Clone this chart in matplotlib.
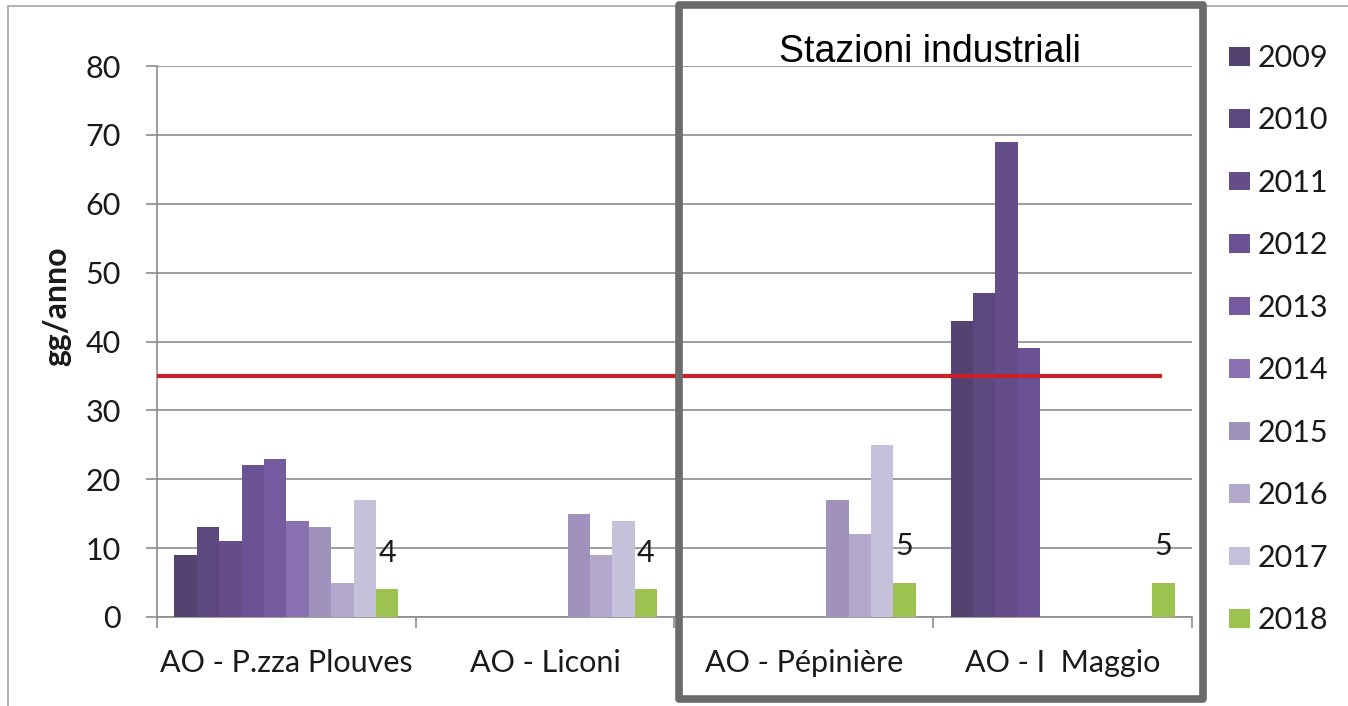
import numpy as np
import matplotlib
matplotlib.use("Agg")
import matplotlib.pyplot as plt
from matplotlib.patches import Rectangle, Patch

# ---- data -------------------------------------------------------------
stations = ["AO - P.zza Plouves", "AO - Liconi", "AO - Pépinière", "AO - I  Maggio"]
years = ["2009", "2010", "2011", "2012", "2013", "2014", "2015", "2016", "2017", "2018"]
nan = np.nan
# days/year per station, one list per year (nan = no data)
v2009 = [9, nan, nan, 43]
v2010 = [13, nan, nan, 47]
v2011 = [11, nan, nan, 69]
v2012 = [22, nan, nan, 39]
v2013 = [23, nan, nan, nan]
v2014 = [14, nan, nan, nan]
v2015 = [13, 15, 17, nan]
v2016 = [5, 9, 12, nan]
v2017 = [17, 14, 25, nan]
v2018 = [4, 4, 5, 5]
limit = 35

series = [v2009, v2010, v2011, v2012, v2013, v2014, v2015, v2016, v2017, v2018]
colors = ["#564271", "#5d4880", "#644d88", "#6b5294", "#755a9f", "#8a72b2",
          "#a191bd", "#b1a8cb", "#c6c1db", "#9cc24f"]

FONT = "Lato"
FS = 22
W, H = 1348, 706

fig = plt.figure(figsize=(W / 100, H / 100), dpi=100)
ax = fig.add_axes([157 / W, (H - 617) / H, (1192 - 157) / W, (617 - 66) / H])

x = np.arange(len(stations))
bw = 0.0865
for i, (yr, vals, c) in enumerate(zip(years, series, colors)):
    off = (i - 4.5) * bw
    ax.bar(x + off, vals, width=bw, color=c, edgecolor="none", zorder=3, label=yr)

# value labels for 2018
off18 = (9 - 4.5) * bw
for xi, v in zip(x, v2018):
    ax.annotate(str(v), (xi + off18, v), xytext=(0, 26), textcoords="offset points",
                ha="center", va="center", fontsize=FS, family=FONT, color="#1a1a1a",
                zorder=4)

# limit line
ax.plot([-0.5, 3.385], [limit, limit], color="#c8202a", lw=3, zorder=4,
        solid_capstyle="butt")

ax.set_xlim(-0.5, 3.5)
ax.set_ylim(0, 80)
ax.set_yticks(range(0, 81, 10))
ax.yaxis.grid(True, color="#8c8c8c", lw=1.2, zorder=0)
ax.set_axisbelow(True)
for s in ("top", "right"):
    ax.spines[s].set_visible(False)
for s in ("left", "bottom"):
    ax.spines[s].set_color("#8c8c8c")
    ax.spines[s].set_linewidth(1.2)

ax.set_xticks(x)
ax.set_xticklabels(stations)
ax.set_xticks(np.arange(-0.5, 3.6, 1), minor=True)
ax.tick_params(axis="x", which="major", length=0, pad=23)
ax.tick_params(axis="x", which="minor", length=8, color="#8c8c8c", width=1.2)
ax.tick_params(axis="y", length=8, color="#8c8c8c", width=1.2, pad=18)
for lab in ax.get_xticklabels() + ax.get_yticklabels():
    lab.set_family(FONT)
    lab.set_fontsize(FS)
    lab.set_color("#1a1a1a")

fig.text(57 / W, 1 - 306 / H, "gg/anno", rotation=90, ha="center", va="center",
         fontsize=23, fontweight="bold", family=FONT, color="#1a1a1a")

# legend
handles = [Patch(facecolor=c, edgecolor="none", label=y) for y, c in zip(years, colors)]
leg = fig.legend(handles=handles, loc="upper left", bbox_to_anchor=(1229 / W, 1 - 44 / H),
                 frameon=False, prop={"family": FONT, "size": FS},
                 handlelength=0.69, handleheight=0.56, handletextpad=0.26,
                 labelspacing=1.128, borderaxespad=0, borderpad=0)
for t in leg.get_texts():
    t.set_color("#1a1a1a")

# outer chart frame
fig.patches.append(Rectangle((8 / W, -0.05), 1.1, (H - 6) / H + 0.05,
                             transform=fig.transFigure, fill=False,
                             edgecolor="#a6a6a6", lw=1.2, zorder=0))

# box around the industrial stations
fig.patches.append(Rectangle((679 / W, (H - 699) / H), (1203 - 679) / W, (699 - 5) / H,
                             transform=fig.transFigure, fill=False,
                             edgecolor="#6b6b6b", lw=5.5, joinstyle="round", zorder=5))
fig.text(930 / W, 1 - 52 / H, "Stazioni industriali", ha="center", va="center",
         fontsize=27, family="Liberation Sans", color="black")

fig.savefig("out.png", dpi=100)
